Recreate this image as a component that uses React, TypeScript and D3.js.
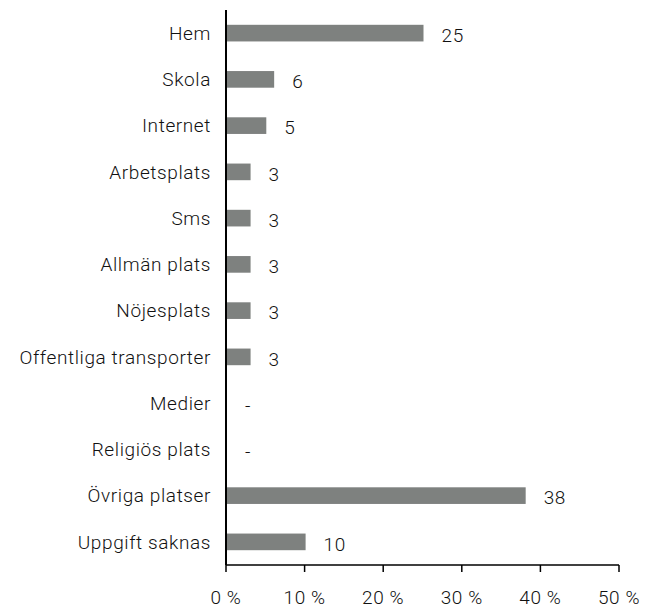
import React from "react";
import * as d3 from "d3";

const categories = [
  "Hem",
  "Skola",
  "Internet",
  "Arbetsplats",
  "Sms",
  "Allmän plats",
  "Nöjesplats",
  "Offentliga transporter",
  "Medier",
  "Religiös plats",
  "Övriga platser",
  "Uppgift saknas",
];
const values = [25, 6, 5, 3, 3, 3, 3, 3, 0, 0, 38, 10];
const valueLabels = ["25", "6", "5", "3", "3", "3", "3", "3", "-", "-", "38", "10"];
const ticks = [0, 10, 20, 30, 40, 50];

export default function App() {
  const W = 656;
  const H = 608;
  const x0 = 226;
  const x1 = 619;
  const yTop = 10;
  const yBot = 565;
  const x = d3.scaleLinear().domain([0, 50]).range([x0, x1]);
  const y = d3.scaleBand<string>().domain(categories).range([yTop, yBot]).paddingInner(0.64).paddingOuter(0.32);
  const font = "Roboto, 'Liberation Sans', sans-serif";
  return (
    <svg width={W} height={H} style={{ position: "absolute", left: 0, top: 0 }} fontFamily={font} fontWeight={300}>
      <rect width={W} height={H} fill="#fff" />
      {categories.map((c, i) => {
        const cy = (y(c) as number) + y.bandwidth() / 2;
        return (
          <g key={c}>
            {values[i] > 0 && (
              <rect x={x(0) + 1} y={y(c)} width={x(values[i]) - x(0)} height={y.bandwidth()} fill="#7e817f" />
            )}
            <text x={211} y={cy} dy="0.35em" textAnchor="end" fontSize={19} letterSpacing={0.6} fill="#111">
              {c}
            </text>
            <text x={x(values[i]) + 19} y={cy + 2} dy="0.35em" textAnchor="start" fontSize={19} letterSpacing={0.6} fill="#111">
              {valueLabels[i]}
            </text>
          </g>
        );
      })}
      <line x1={x0} x2={x0} y1={yTop} y2={yBot} stroke="#000" strokeWidth={2} />
      <line x1={x0} x2={x1} y1={yBot} y2={yBot} stroke="#000" strokeWidth={1.5} />
      {ticks.map((t) => (
        <g key={t}>
          <line x1={x(t)} x2={x(t)} y1={yBot} y2={yBot + 7} stroke="#000" strokeWidth={1.5} />
          <text x={x(t)} y={597} dy="0.35em" textAnchor="middle" fontSize={19} letterSpacing={0.6} fill="#111">
            {`${t} %`}
          </text>
        </g>
      ))}
    </svg>
  );
}
